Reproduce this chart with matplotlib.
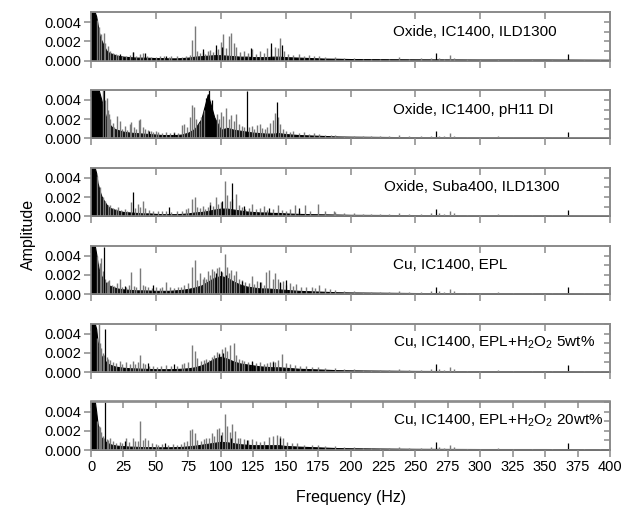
import matplotlib.pyplot as plt

plt.rcParams['font.family'] = ['Liberation Sans', 'DejaVu Sans']
plt.rcParams['mathtext.fontset'] = 'custom'
plt.rcParams['mathtext.rm'] = 'Liberation Sans'
plt.rcParams['mathtext.it'] = 'Liberation Sans:italic'

MILLI = 1e-3  # amplitudes below are typed in units of 0.001

labels = ["Oxide, IC1400, ILD1300",
          "Oxide, IC1400, pH11 DI",
          "Oxide, Suba400, ILD1300",
          "Cu, IC1400, EPL",
          r"Cu, IC1400, EPL+H$_2$O$_2$ 5wt%",
          r"Cu, IC1400, EPL+H$_2$O$_2$ 20wt%"]
label_x = [233, 233, 226, 233, 233, 233]

# frequencies where the dense black core of each spectrum was read
band_f = [0, 1, 2, 3, 4, 5, 6, 7, 8, 10, 12, 14, 16, 18, 20, 25, 30, 35, 40, 45,
          50, 55, 60, 65, 70, 75, 80, 85, 90, 95, 100, 105, 110, 115, 120, 125,
          130, 135, 140, 145, 150, 160, 170, 180, 190, 200, 250, 300, 350, 400]

# small lines above 185 Hz, common to all six runs
tail_f = [188, 195, 203, 210, 216, 223, 230, 237, 245, 254, 262, 268, 272,
          277, 280, 290, 300, 314, 325, 340, 355, 380, 392]
tail_a = [0.4, 0.3, 0.3, 0.2, 0.2, 0.2, 0.2, 0.35, 0.2, 0.25, 0.3, 0.3, 0.2,
          0.55, 0.3, 0.15, 0.15, 0.2, 0.1, 0.15, 0.1, 0.1, 0.1]
tail_black = [(266, 0.8), (368, 0.7)]

band_1 = [5, 5, 5, 5, 4.6, 3.8, 3.0, 2.4, 2.1, 1.5, 1.0, 0.8, 0.7, 0.6, 0.5, 0.4,
          0.35, 0.3, 0.3, 0.28, 0.25, 0.25, 0.22, 0.22, 0.25, 0.3, 0.4, 0.45,
          0.5, 0.55, 0.55, 0.5, 0.45, 0.4, 0.4, 0.35, 0.35, 0.35, 0.4, 0.4,
          0.35, 0.3, 0.25, 0.2, 0.18, 0.15, 0.12, 0.1, 0.1, 0.08]
grey_1 = [(5, 4.2), (6, 3.5), (8, 2.8), (10, 2.9), (11, 1.8), (13, 1.5), (15, 1.0),
          (17, 0.8), (19, 0.7), (21, 0.6), (24, 0.5), (27, 0.5), (30, 0.6),
          (32, 0.9), (35, 0.5), (38, 0.7), (40, 0.8), (43, 0.5), (46, 0.4),
          (50, 0.4), (53, 0.45), (56, 0.5), (60, 0.4), (62, 0.5), (66, 0.45),
          (70, 0.4), (73, 0.5), (76, 0.6), (78, 2.1), (80, 3.6), (82, 1.0),
          (84, 0.8), (86, 0.9), (88, 0.7), (90, 1.0), (92, 1.1), (94, 0.9),
          (96, 1.1), (98, 1.2), (100, 1.9), (102, 2.8), (104, 1.3), (106, 2.5),
          (108, 2.9), (110, 1.8), (112, 1.4), (115, 0.9), (118, 1.0), (121, 0.8),
          (124, 1.2), (127, 0.7), (130, 1.0), (133, 0.8), (136, 1.3), (139, 1.2),
          (142, 1.4), (144, 1.3), (146, 2.3), (149, 1.0), (152, 0.7), (156, 0.6),
          (160, 0.7), (164, 0.5), (168, 0.6), (172, 0.5), (176, 0.5), (180, 0.4)]
black_1 = [(22, 0.7), (32, 0.9), (42, 0.8), (58, 0.5), (86, 1.2), (96, 1.6),
           (101, 1.4), (123, 1.3), (139, 1.8), (147, 1.6)]

band_2 = [5, 5, 5, 5, 5, 5, 5, 4.5, 4.0, 3.0, 2.0, 1.5, 1.2, 1.0, 0.9, 0.7, 0.6,
          0.55, 0.5, 0.45, 0.4, 0.35, 0.35, 0.35, 0.4, 0.6, 1.0, 2.0, 4.6, 2.2,
          0.9, 1.1, 0.9, 0.8, 0.7, 0.6, 0.55, 0.5, 0.5, 0.55, 0.45, 0.35, 0.3,
          0.25, 0.2, 0.18, 0.12, 0.1, 0.1, 0.08]
grey_2 = [(9, 5.0), (11, 4.0), (12, 4.2), (13, 3.0), (14, 2.5), (15, 2.0),
          (17, 1.6), (18, 1.2), (20, 2.3), (22, 1.8), (24, 1.0), (26, 1.3),
          (28, 0.9), (30, 1.5), (31, 1.7), (33, 1.2), (35, 1.0), (37, 1.9),
          (38, 2.0), (40, 1.2), (42, 1.0), (44, 0.9), (46, 0.8), (48, 0.7),
          (50, 0.8), (52, 0.7), (55, 0.6), (58, 0.7), (61, 0.6), (64, 0.7),
          (67, 0.6), (70, 1.4), (72, 1.5), (74, 1.2), (76, 2.2), (78, 3.5),
          (79, 3.3), (81, 2.0), (83, 1.6), (85, 2.2), (87, 3.0), (97, 2.5),
          (99, 2.0), (100, 2.8), (102, 2.3), (104, 3.2), (106, 2.0), (108, 2.4),
          (110, 1.8), (112, 2.5), (114, 1.5), (116, 1.3), (118, 1.2), (122, 1.2),
          (124, 1.3), (126, 1.0), (128, 1.4), (130, 1.5), (132, 1.1), (134, 1.0),
          (136, 1.2), (138, 1.6), (140, 1.9), (142, 2.6), (144, 2.2), (146, 1.5),
          (148, 1.0), (150, 0.8), (153, 0.7), (156, 0.8), (160, 0.6), (164, 0.7),
          (168, 0.5), (172, 0.6), (176, 0.5), (180, 0.4), (185, 0.4)]
black_2 = [(10, 5.0), (89, 4.2), (91, 5.0), (93, 4.0), (120, 4.9), (143, 3.8),
           (45, 0.8), (64, 0.6)]

band_3 = [5, 5, 5, 5, 4.5, 3.5, 3.0, 2.5, 2.1, 1.6, 1.2, 0.9, 0.8, 0.7, 0.6, 0.45,
          0.4, 0.35, 0.3, 0.3, 0.25, 0.22, 0.22, 0.22, 0.25, 0.3, 0.4, 0.45,
          0.55, 0.7, 0.8, 0.8, 0.7, 0.6, 0.5, 0.45, 0.4, 0.4, 0.35, 0.35, 0.3,
          0.25, 0.22, 0.2, 0.18, 0.15, 0.12, 0.1, 0.1, 0.08]
grey_3 = [(5, 4.2), (7, 3.0), (9, 2.0), (11, 1.6), (13, 1.2), (15, 1.2),
          (17, 0.9), (19, 0.8), (21, 1.0), (23, 0.7), (26, 0.8), (28, 0.6),
          (31, 1.5), (34, 0.9), (36, 1.3), (38, 1.0), (40, 1.6), (42, 0.9),
          (45, 0.7), (48, 0.6), (52, 0.5), (55, 0.5), (58, 0.6), (62, 0.4),
          (66, 0.5), (70, 0.6), (73, 0.8), (75, 0.9), (78, 1.8), (80, 2.0),
          (82, 1.0), (84, 0.9), (86, 1.1), (88, 0.8), (90, 1.0), (92, 1.5),
          (94, 1.1), (96, 2.0), (98, 1.3), (100, 1.5), (103, 3.7), (105, 2.2),
          (107, 1.6), (109, 1.8), (112, 2.3), (114, 1.2), (116, 1.0), (119, 0.8),
          (122, 0.9), (124, 1.3), (127, 0.8), (130, 0.9), (133, 1.1), (136, 0.7),
          (140, 0.8), (144, 1.2), (147, 0.7), (150, 0.6), (153, 0.8), (157, 1.2),
          (160, 0.6), (165, 1.2), (169, 0.6), (175, 1.3), (180, 0.5), (187, 0.5)]
black_3 = [(32, 2.5), (60, 1.0), (92, 1.2), (101, 1.6), (109, 3.5), (118, 1.1),
           (137, 0.9), (160, 0.9)]

band_4 = [5, 5, 5, 5, 4.2, 3.3, 2.6, 2.2, 1.9, 1.4, 1.1, 0.9, 0.8, 0.7, 0.6, 0.5,
          0.45, 0.4, 0.4, 0.38, 0.35, 0.35, 0.35, 0.4, 0.45, 0.55, 0.7, 0.9,
          1.3, 1.7, 1.9, 1.7, 1.3, 1.0, 0.8, 0.7, 0.6, 0.6, 0.55, 0.5, 0.45,
          0.35, 0.3, 0.25, 0.2, 0.18, 0.12, 0.1, 0.1, 0.08]
grey_4 = [(5, 4.0), (7, 3.2), (8, 3.8), (9, 2.4), (11, 1.6), (12, 1.3), (13, 1.4),
          (14, 1.5), (16, 1.0), (18, 0.9), (20, 1.2), (22, 1.6), (24, 0.8),
          (27, 0.8), (29, 1.0), (31, 2.3), (33, 0.9), (35, 0.7), (38, 2.7),
          (40, 1.0), (42, 0.9), (44, 0.7), (47, 0.6), (50, 0.8), (53, 0.6),
          (55, 0.7), (58, 1.3), (61, 0.7), (64, 0.6), (67, 0.8), (69, 0.8),
          (72, 1.0), (75, 1.2), (78, 2.8), (80, 3.6), (82, 1.5), (84, 2.2),
          (86, 1.6), (87, 1.8), (89, 1.6), (90, 2.4), (92, 2.0), (93, 2.6),
          (95, 2.4), (97, 2.7), (99, 2.8), (101, 2.3), (103, 4.2), (105, 2.8),
          (106, 2.2), (108, 2.5), (110, 2.0), (112, 2.4), (114, 1.6), (116, 1.5),
          (119, 1.3), (122, 1.2), (124, 1.9), (126, 1.1), (128, 1.4), (131, 1.3),
          (133, 1.0), (135, 2.3), (137, 2.5), (140, 1.6), (142, 2.2), (144, 1.6),
          (146, 1.2), (148, 1.4), (150, 1.0), (153, 1.2), (156, 0.9), (158, 1.1),
          (162, 0.7), (166, 0.8), (170, 0.7), (173, 0.6), (176, 1.0), (180, 0.6),
          (184, 0.5)]
black_4 = [(10, 4.9), (26, 0.9), (48, 1.0), (96, 2.2), (100, 2.4), (104, 2.0),
           (116, 1.4), (130, 1.3), (146, 1.3), (150, 1.5)]

band_5 = [5, 5, 5, 5, 4.5, 3.2, 2.5, 2.0, 1.7, 1.3, 1.0, 0.8, 0.7, 0.6, 0.55, 0.45,
          0.4, 0.38, 0.35, 0.33, 0.3, 0.3, 0.3, 0.32, 0.35, 0.4, 0.5, 0.7, 1.0,
          1.4, 1.6, 1.4, 1.1, 0.9, 0.8, 0.7, 0.6, 0.55, 0.5, 0.5, 0.45, 0.35,
          0.3, 0.25, 0.2, 0.18, 0.12, 0.1, 0.1, 0.08]
grey_5 = [(5, 3.5), (6, 5.0), (7, 3.0), (8, 2.5), (9, 2.0), (10, 1.8), (12, 1.6),
          (13, 1.4), (15, 1.3), (17, 1.0), (19, 0.9), (22, 1.2), (24, 0.8),
          (27, 1.1), (30, 0.8), (32, 1.2), (34, 0.8), (36, 1.0), (38, 1.8),
          (40, 0.9), (42, 0.8), (45, 0.6), (48, 0.6), (51, 0.5), (54, 0.6),
          (58, 0.7), (62, 0.6), (66, 0.6), (70, 0.8), (72, 0.9), (75, 1.1),
          (78, 2.8), (80, 2.2), (82, 1.5), (85, 1.2), (87, 1.3), (89, 1.4),
          (91, 1.3), (93, 1.6), (95, 1.8), (97, 2.1), (99, 2.0), (101, 2.4),
          (103, 2.6), (105, 2.2), (107, 2.8), (110, 3.0), (112, 1.8), (114, 1.4),
          (116, 1.3), (118, 1.2), (121, 1.0), (124, 1.1), (127, 0.9), (130, 1.0),
          (133, 0.8), (136, 0.9), (138, 1.0), (140, 1.2), (142, 1.1), (144, 1.3),
          (147, 1.9), (150, 0.9), (153, 0.8), (157, 0.7), (161, 0.6), (166, 0.6),
          (170, 0.5), (175, 0.5), (180, 0.4)]
black_5 = [(11, 4.5), (44, 0.9), (64, 0.8), (99, 1.9), (102, 2.0), (124, 1.2),
           (140, 1.0)]

band_6 = [5, 5, 5, 5, 4.0, 2.8, 2.0, 1.6, 1.3, 1.0, 0.8, 0.65, 0.55, 0.5, 0.45,
          0.4, 0.35, 0.33, 0.3, 0.3, 0.28, 0.28, 0.28, 0.3, 0.32, 0.38, 0.45,
          0.55, 0.65, 0.75, 0.85, 0.8, 0.7, 0.6, 0.55, 0.5, 0.5, 0.5, 0.5, 0.5,
          0.42, 0.35, 0.3, 0.25, 0.2, 0.18, 0.12, 0.1, 0.1, 0.08]
grey_6 = [(5, 3.0), (6, 2.5), (7, 2.4), (8, 1.9), (9, 1.5), (10, 1.2), (12, 1.1),
          (13, 1.0), (15, 1.2), (17, 0.9), (19, 0.7), (22, 0.8), (24, 0.7),
          (27, 1.2), (29, 0.8), (32, 1.2), (34, 0.9), (36, 0.9), (38, 3.0),
          (40, 1.0), (42, 1.3), (44, 1.0), (47, 0.7), (50, 0.6), (52, 0.5),
          (55, 0.6), (59, 0.5), (63, 0.6), (66, 0.5), (69, 0.6), (72, 0.8),
          (74, 0.9), (76, 2.1), (78, 2.2), (80, 1.8), (82, 1.0), (85, 0.9),
          (87, 1.1), (89, 1.2), (91, 1.3), (93, 1.8), (95, 1.5), (97, 2.2),
          (99, 2.3), (101, 1.9), (103, 3.8), (105, 2.5), (107, 1.9), (109, 2.7),
          (111, 2.0), (113, 1.3), (115, 1.2), (118, 1.1), (121, 1.0), (124, 1.1),
          (127, 0.9), (130, 0.8), (133, 0.9), (137, 1.4), (140, 1.5), (143, 1.6),
          (146, 1.5), (148, 1.2), (151, 0.8), (155, 0.7), (159, 0.7), (164, 0.5),
          (170, 0.5), (175, 0.5), (180, 0.4)]
black_6 = [(11, 5.0), (26, 0.9), (57, 0.7), (100, 1.6), (108, 1.2), (120, 1.0),
           (146, 1.2)]

bands = [band_1, band_2, band_3, band_4, band_5, band_6]
greys = [grey_1, grey_2, grey_3, grey_4, grey_5, grey_6]
blacks = [black_1, black_2, black_3, black_4, black_5, black_6]

FRAME = '#8a8a8a'
GREY = '#7a7a7a'

fig = plt.figure(figsize=(6.35, 5.14), dpi=100)
W, H = 635.0, 514.0

for i in range(6):
    zero_y = 60.5 + 77.9 * i
    ax = fig.add_axes([91 / W, 1 - zero_y / H, 519 / W, 48.5 / H])

    gf = [f for f, a in greys[i]] + tail_f
    ga = [a * MILLI for f, a in greys[i]] + [a * MILLI for a in tail_a]
    ax.vlines(gf, 0, ga, color=GREY, lw=1.0)
    ax.fill_between(band_f, 0, [b * MILLI for b in bands[i]],
                    facecolor='black', edgecolor='black', lw=0.8)
    blk = blacks[i] + tail_black
    ax.vlines([f for f, a in blk], 0, [a * MILLI for f, a in blk],
              color='black', lw=0.9)

    ax.set_xlim(0, 400)
    ax.set_ylim(0, 0.00505)
    ax.text(label_x[i], 0.003, labels[i], ha='left', va='center', fontsize=11)

    step = 25 if i == 5 else 50
    xt = list(range(0, 401, step))
    ax.set_xticks(xt)
    ax.set_yticks([0, 0.002, 0.004])
    ax.set_yticklabels(['0.000', '0.002', '0.004'])
    ax.tick_params(axis='both', direction='out', length=5, width=1.1,
                   color=FRAME, labelsize=10.5, pad=2)
    if i == 5:
        ax.set_xticklabels([str(v) for v in xt])
    else:
        ax.set_xticklabels([])

    top = ax.secondary_xaxis('top')
    top.set_xticks(xt)
    top.tick_params(direction='in', length=5, width=1.1, color=FRAME,
                    labeltop=False)
    right = ax.secondary_yaxis('right')
    right.set_yticks([0.001, 0.002, 0.003, 0.004, 0.005])
    right.tick_params(direction='in', length=4, width=1.1, color=FRAME,
                      labelright=False)
    for axis in (ax, top, right):
        for s in axis.spines.values():
            s.set_color(FRAME)
            s.set_linewidth(1.2)

fig.text(0.553, 0.033, 'Frequency (Hz)', ha='center', va='center', fontsize=11.5)
fig.text(0.045, 0.543, 'Amplitude', ha='center', va='center', rotation=90,
         fontsize=11.5)

fig.savefig('out.png', dpi=100)
